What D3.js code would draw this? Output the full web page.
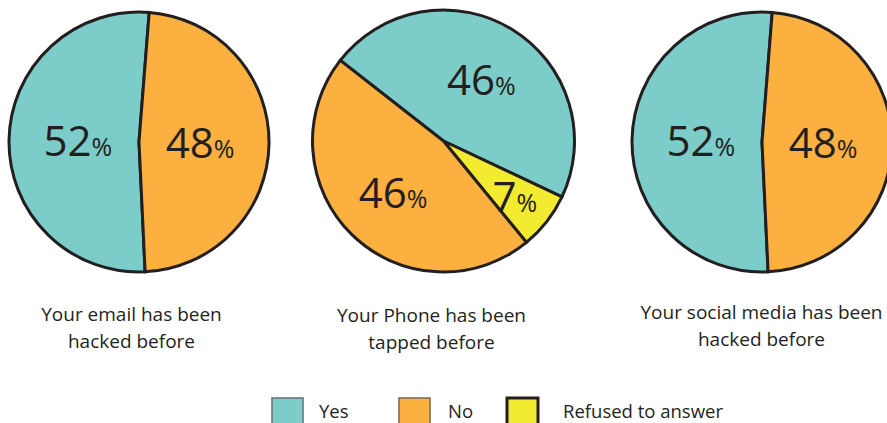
<!DOCTYPE html>
<html>
<head>
<meta charset="utf-8">
<script src="https://cdn.jsdelivr.net/npm/d3@7"></script>
<style>
  html, body { margin: 0; padding: 0; background: #fff; overflow: hidden; }
  svg { display: block; }
  text { font-family: "Open Sans", "Noto Sans", sans-serif; fill: #231f20; }
</style>
</head>
<body>
<script>
// Survey questions, one pie each
const questions = [
  ["Your email has been", "hacked before"],
  ["Your Phone has been", "tapped before"],
  ["Your social media has been", "hacked before"]
];

// Answer categories, in clockwise drawing order
const answers = ["Yes", "Refused to answer", "No"];
const legendOrder = ["Yes", "No", "Refused to answer"];

// Share of respondents (%) per question
const yesValues = [52, 46, 52];
const noValues = [48, 46, 48];
const refusedValues = [0, 7, 0];

const W = 887, H = 423;
const ink = "#231f20";

const color = d3.scaleOrdinal()
  .domain(["Yes", "No", "Refused to answer"])
  .range(["#7ccdc9", "#fbb040", "#f3eb2f"]);

// Pie placement
const centers = d3.scaleOrdinal().domain(d3.range(3)).range([[139, 142], [443.5, 141], [762, 142]]);
const radius = d3.scaleOrdinal().domain(d3.range(3)).range([130, 131, 130]);
const startDeg = d3.scaleOrdinal().domain(d3.range(3)).range([177.3, -52, 177.3]);
const titleBaseline = d3.scaleOrdinal().domain(d3.range(3)).range([321, 322, 319]);
const titleX = d3.scaleOrdinal().domain(d3.range(3)).range([131.5, 431.5, 761.5]);

const svg = d3.select("body").append("svg")
  .attr("width", W).attr("height", H);

const valueOf = {
  "Yes": i => yesValues[i],
  "No": i => noValues[i],
  "Refused to answer": i => refusedValues[i]
};

questions.forEach((q, i) => {
  const [cx, cy] = centers(i);
  const r = radius(i);
  const a0 = startDeg(i) * Math.PI / 180;

  const slices = answers
    .map(a => ({ answer: a, value: valueOf[a](i) }))
    .filter(d => d.value > 0);

  const pie = d3.pie().sort(null).value(d => d.value)
    .startAngle(a0).endAngle(a0 + 2 * Math.PI);
  const arcs = pie(slices);

  const arc = d3.arc().innerRadius(0).outerRadius(r);

  const g = svg.append("g").attr("transform", `translate(${cx},${cy})`);

  g.selectAll("path.slice")
    .data(arcs)
    .join("path")
    .attr("class", "slice")
    .attr("d", arc)
    .attr("fill", d => color(d.data.answer))
    .attr("stroke", ink)
    .attr("stroke-width", 3)
    .attr("stroke-linejoin", "miter");

  // Percentage labels: narrow slices get their label pushed outward
  const baseR = slices.length > 2 ? 0.55 : 0.47;
  g.selectAll("text.pct")
    .data(arcs)
    .join("text")
    .attr("class", "pct")
    .attr("text-anchor", "middle")
    .attr("transform", d => {
      const span = d.endAngle - d.startAngle;
      const lr = span < Math.PI / 3 ? r * 0.69 : r * baseR;
      const [x, y] = d3.arc().innerRadius(lr).outerRadius(lr).centroid(d);
      return `translate(${x},${y + 15})`;
    })
    .each(function (d) {
      const t = d3.select(this);
      t.append("tspan").attr("font-size", 42).text(d.data.value);
      t.append("tspan").attr("font-size", 25).text("%");
    });

  // Question caption
  svg.append("text")
    .attr("text-anchor", "middle")
    .attr("x", titleX(i))
    .attr("y", titleBaseline(i))
    .attr("font-size", 19)
    .selectAll("tspan")
    .data(q)
    .join("tspan")
    .attr("x", titleX(i))
    .attr("dy", (d, k) => k === 0 ? 0 : 26.5)
    .text(d => d);
});

// Legend
const legendX = d3.scaleOrdinal().domain(legendOrder).range([272, 399, 507]);
const legendTextDx = d3.scaleOrdinal().domain(legendOrder).range([47, 49, 56]);
const legendStroke = d3.scaleOrdinal().domain(legendOrder).range(["#6d7676", "#7a6d5e", ink]);
const legendStrokeW = d3.scaleOrdinal().domain(legendOrder).range([1.6, 1.6, 3]);

const lg = svg.append("g");
const item = lg.selectAll("g.item")
  .data(legendOrder)
  .join("g")
  .attr("class", "item")
  .attr("transform", d => `translate(${legendX(d)},398)`);

item.append("rect")
  .attr("width", 31).attr("height", 31)
  .attr("fill", d => color(d))
  .attr("stroke", d => legendStroke(d))
  .attr("stroke-width", d => legendStrokeW(d));

item.append("text")
  .attr("x", d => legendTextDx(d)).attr("y", 20)
  .attr("font-size", 18.5)
  .text(d => d);
</script>
</body>
</html>
